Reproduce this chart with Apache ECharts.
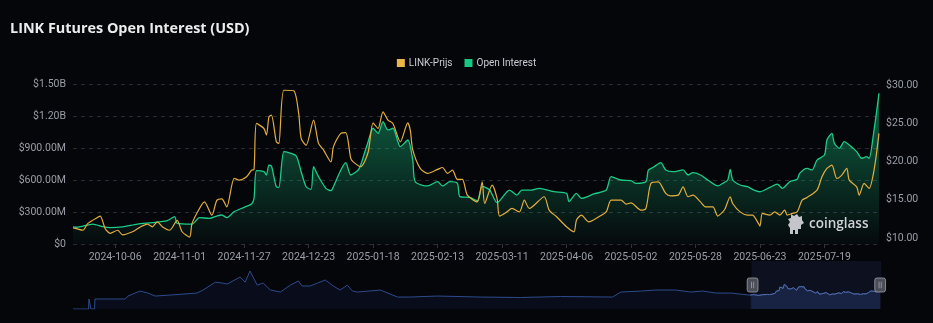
<!DOCTYPE html>
<html>
<head>
<meta charset="utf-8">
<title>LINK Futures Open Interest (USD)</title>
<script src="https://cdn.jsdelivr.net/npm/echarts@6.0.0/dist/echarts.min.js"></script>
<style>
  html, body { margin: 0; padding: 0; background: #05060a; }
  #chart { width: 933px; height: 323px; }
</style>
</head>
<body>
<div id="chart"></div>
<script>
// visible window and full history range
const fullStart = '2020-01-25';
const windowStart = '2024-09-19';
const windowEnd = '2025-08-10';

// open interest, in millions of USD
const oiDates = ['2024-09-19','2024-09-20','2024-09-22','2024-09-27','2024-10-01','2024-10-04','2024-10-09','2024-10-15','2024-10-21','2024-10-27','2024-10-30','2024-10-31','2024-11-06','2024-11-09','2024-11-13','2024-11-16','2024-11-18','2024-11-20','2024-11-23','2024-11-27','2024-11-30','2024-12-01','2024-12-02','2024-12-05','2024-12-06','2024-12-07','2024-12-08','2024-12-09','2024-12-10','2024-12-11','2024-12-13','2024-12-15','2024-12-18','2024-12-20','2024-12-22','2024-12-24','2024-12-25','2024-12-27','2024-12-30','2025-01-01','2025-01-02','2025-01-05','2025-01-07','2025-01-09','2025-01-12','2025-01-13','2025-01-16','2025-01-18','2025-01-20','2025-01-22','2025-01-24','2025-01-26','2025-01-29','2025-02-01','2025-02-03','2025-02-04','2025-02-09','2025-02-13','2025-02-15','2025-02-18','2025-02-21','2025-02-22','2025-02-26','2025-03-01','2025-03-03','2025-03-06','2025-03-09','2025-03-14','2025-03-17','2025-03-19','2025-03-23','2025-03-26','2025-04-01','2025-04-06','2025-04-07','2025-04-10','2025-04-12','2025-04-17','2025-04-22','2025-04-24','2025-04-28','2025-05-02','2025-05-04','2025-05-08','2025-05-09','2025-05-11','2025-05-14','2025-05-16','2025-05-19','2025-05-23','2025-05-25','2025-05-27','2025-05-30','2025-06-02','2025-06-06','2025-06-08','2025-06-10','2025-06-11','2025-06-12','2025-06-15','2025-06-18','2025-06-20','2025-06-23','2025-06-27','2025-06-30','2025-07-02','2025-07-05','2025-07-08','2025-07-09','2025-07-12','2025-07-14','2025-07-16','2025-07-19','2025-07-20','2025-07-22','2025-07-23','2025-07-25','2025-07-27','2025-07-29','2025-08-01','2025-08-03','2025-08-05','2025-08-06','2025-08-08','2025-08-10'];
const oiValues = [160,157,162,187,162,153,160,187,200,219,256,194,187,247,240,262,272,247,303,344,375,428,687,678,647,740,731,631,537,531,866,856,825,678,537,512,725,631,522,500,537,694,762,647,694,741,959,1085,1038,1147,1069,1085,912,975,787,584,544,584,544,584,569,444,437,406,540,506,387,506,459,506,506,522,490,475,397,475,428,469,506,631,600,594,569,584,694,719,762,694,678,694,647,669,647,600,544,569,600,700,600,553,537,512,490,531,562,522,584,606,662,709,694,787,834,975,1038,944,897,959,928,866,803,819,803,1069,1413];

// LINK price, USD
const priceDates = ['2024-09-19','2024-09-20','2024-09-23','2024-09-25','2024-09-29','2024-09-30','2024-10-02','2024-10-04','2024-10-07','2024-10-09','2024-10-13','2024-10-16','2024-10-19','2024-10-21','2024-10-23','2024-10-25','2024-10-28','2024-10-31','2024-11-02','2024-11-05','2024-11-06','2024-11-09','2024-11-11','2024-11-14','2024-11-16','2024-11-18','2024-11-20','2024-11-23','2024-11-25','2024-11-28','2024-11-30','2024-12-01','2024-12-02','2024-12-05','2024-12-06','2024-12-07','2024-12-08','2024-12-10','2024-12-11','2024-12-13','2024-12-17','2024-12-19','2024-12-20','2024-12-22','2024-12-25','2024-12-27','2024-12-29','2025-01-01','2025-01-02','2025-01-05','2025-01-07','2025-01-09','2025-01-10','2025-01-13','2025-01-16','2025-01-18','2025-01-20','2025-01-22','2025-01-24','2025-01-26','2025-01-29','2025-02-01','2025-02-02','2025-02-03','2025-02-06','2025-02-09','2025-02-13','2025-02-15','2025-02-17','2025-02-19','2025-02-21','2025-02-23','2025-02-25','2025-03-01','2025-03-03','2025-03-04','2025-03-07','2025-03-09','2025-03-10','2025-03-13','2025-03-15','2025-03-18','2025-03-20','2025-03-22','2025-03-28','2025-03-30','2025-04-02','2025-04-06','2025-04-09','2025-04-10','2025-04-12','2025-04-15','2025-04-19','2025-04-22','2025-04-24','2025-04-28','2025-04-30','2025-05-02','2025-05-06','2025-05-08','2025-05-10','2025-05-13','2025-05-16','2025-05-18','2025-05-21','2025-05-23','2025-05-25','2025-05-27','2025-05-30','2025-06-01','2025-06-04','2025-06-06','2025-06-08','2025-06-09','2025-06-11','2025-06-12','2025-06-15','2025-06-18','2025-06-20','2025-06-22','2025-06-23','2025-06-24','2025-06-27','2025-06-29','2025-07-01','2025-07-03','2025-07-04','2025-07-06','2025-07-08','2025-07-10','2025-07-12','2025-07-16','2025-07-18','2025-07-20','2025-07-22','2025-07-24','2025-07-26','2025-07-28','2025-07-29','2025-08-01','2025-08-02','2025-08-04','2025-08-06','2025-08-08','2025-08-10'];
const priceValues = [11.3,11.24,11.0,11.9,12.7,12.85,11.2,10.6,11.0,10.4,10.8,11.4,11.8,11.45,12.1,11.45,11.0,12.3,10.8,10.1,11.9,13.85,14.7,12.98,14.9,15.1,14.05,17.8,17.55,17.99,18.86,18.95,24.96,24.3,23.43,25.8,26.05,22.56,22.35,29.3,29.23,26.27,23.0,22.1,25.4,22.35,21.5,19.94,21.9,23.66,23.75,20.39,19.94,19.3,21.2,25.04,24.3,26.48,25.4,24.96,22.56,25.04,24.08,21.5,19.08,18.43,18.95,19.2,18.43,18.86,17.64,17.64,15.59,14.71,17.33,14.5,16.9,15.16,12.85,13.4,13.85,13.4,14.93,13.85,15.38,13.63,12.76,11.45,10.79,12.32,12.98,12.1,12.76,13.4,14.93,14.93,14.41,14.58,13.63,13.85,17.12,17.33,15.81,15.5,15.59,16.67,15.38,15.59,14.71,14.05,14.05,12.85,13.4,13.85,15.38,14.5,13.4,12.98,12.98,12.1,11.54,13.2,12.98,13.4,12.98,13.63,12.98,13.2,13.4,14.93,15.29,16.24,17.99,19.08,19.51,17.77,18.21,19.08,17.55,16.67,15.59,17.12,16.46,18.86,23.66];

// older LINK price history shown in the zoom slider (null = no data)
const histDates = ['2020-01-25','2020-03-04','2020-03-05','2020-03-09','2020-03-10','2020-03-19','2020-03-20','2020-06-04','2020-06-11','2020-07-11','2020-07-31','2020-08-18','2020-09-25','2020-12-01','2020-12-16','2021-01-16','2021-02-02','2021-02-15','2021-03-19','2021-04-01','2021-04-13','2021-05-01','2021-05-16','2021-06-03','2021-06-28','2021-07-23','2021-08-12','2021-08-22','2021-09-11','2021-09-29','2021-10-19','2021-11-08','2021-11-25','2021-12-13','2021-12-26','2022-01-07','2022-03-06','2022-04-18','2022-05-20','2022-07-27','2022-11-12','2023-02-20','2023-06-01','2023-10-09','2023-10-30','2023-12-19','2024-01-25','2024-03-16','2024-04-22','2024-05-22','2024-06-24','2024-08-01','2024-09-15'];
const histPrice = [null,null,4.5,4.5,null,null,4.5,4.5,9.5,18,14.6,9.5,11.2,14.6,19.7,33,31.6,30,41.8,33,52,28,31.6,19.7,16.3,28,35,26.5,26.5,31.6,36.7,26.5,19.7,28,18,16.3,19.7,7.8,7.8,9.5,7.8,7.0,8.7,7.8,16.3,18,19.7,19.7,16.3,18,14.6,14.6,11.2];

const xTickDates = ['2024-10-06','2024-11-01','2024-11-27','2024-12-23','2025-01-18','2025-02-13','2025-03-11','2025-04-06','2025-05-02','2025-05-28','2025-06-23','2025-07-19'];
const priceTicks = [10, 15, 20, 25, 30];

const HIST_MIN = -12.5;
const HIST_MAX = 69;

const ts = d => +echarts.time.parse(d);
const pair = (dates, vals) => dates.map((d, i) => [ts(d), vals[i]]);
const oiData = pair(oiDates, oiValues);
const priceData = pair(priceDates, priceValues);
const histData = pair(histDates, histPrice.map(v => v == null ? HIST_MIN : v)).concat(priceData);
const xTicks = xTickDates.map(ts);

const chart = echarts.init(document.getElementById('chart'));
const labelFont = { color: '#9a9ea7', fontSize: 10.5, fontFamily: 'Roboto' };

function fmtOi(v) {
  if (v === 0) return '$0';
  if (v >= 1000) return '$' + (v / 1000).toFixed(2) + 'B';
  return '$' + v.toFixed(2) + 'M';
}

chart.setOption({
  backgroundColor: '#05060a',
  animation: false,
  title: {
    text: 'LINK Futures Open Interest (USD)',
    left: 5, top: 17,
    textStyle: { color: '#ececee', fontSize: 14.4, fontWeight: 'bold', fontFamily: 'Open Sans' }
  },
  legend: {
    data: ['LINK-Prijs', 'Open Interest'],
    top: 53, left: 'center',
    icon: 'rect', itemWidth: 8, itemHeight: 8, itemGap: 12, padding: [5, 5],
    textStyle: { color: '#c9ccd3', fontSize: 10, fontFamily: 'Roboto', padding: [0, 0, 0, -1] }
  },
  grid: [
    { left: 73, right: 54, top: 84, height: 160 },
    { left: 73, right: 53, top: 261, height: 48 }
  ],
  xAxis: [
    {
      type: 'value', gridIndex: 0, scale: true,
      min: ts(fullStart), max: ts(windowEnd),
      axisLine: { show: false },
      axisTick: { show: true, length: 4, customValues: xTicks, lineStyle: { color: '#30333b' } },
      axisLabel: Object.assign({
        customValues: xTicks, margin: 8, hideOverlap: false,
        formatter: v => echarts.time.format(v, '{yyyy}-{MM}-{dd}', false)
      }, labelFont),
      splitLine: { show: false }
    },
    {
      type: 'value', gridIndex: 1, show: false, scale: true,
      min: ts(fullStart), max: ts(windowEnd)
    }
  ],
  yAxis: [
    {
      type: 'value', gridIndex: 0, min: 0, max: 1500, interval: 300,
      axisLine: { show: false }, axisTick: { show: false },
      axisLabel: Object.assign({ formatter: fmtOi, margin: 7 }, labelFont),
      splitLine: { lineStyle: { color: '#2a2d35', type: [4, 4] } }
    },
    {
      type: 'value', gridIndex: 0, position: 'right', min: 9.2, max: 30.12,
      axisLine: { show: false }, axisTick: { show: false },
      axisLabel: Object.assign({ customValues: priceTicks, formatter: v => '$' + v.toFixed(2), margin: 7 }, labelFont),
      splitLine: { show: false }
    },
    {
      type: 'value', gridIndex: 1, show: false, min: HIST_MIN, max: HIST_MAX
    }
  ],
  dataZoom: [{
    type: 'slider', xAxisIndex: 0, filterMode: 'none',
    startValue: ts(windowStart), endValue: ts(windowEnd),
    left: 73, right: 53, top: 261, height: 48,
    backgroundColor: 'transparent', borderColor: 'transparent',
    fillerColor: 'rgba(45,65,125,0.18)',
    showDataShadow: false, showDetail: false, brushSelect: false,
    moveHandleSize: 0, zoomLock: true,
    handleIcon: 'path://M2,0H8A2,2,0,0,1,10,2V11A2,2,0,0,1,8,13H2A2,2,0,0,1,0,11V2A2,2,0,0,1,2,0Z M4,3.5V9.5 M6,3.5V9.5',
    handleSize: 14,
    handleStyle: { color: '#4b4e57', borderColor: '#9fa2aa', borderWidth: 0.8 },
    emphasis: { handleStyle: { color: '#4b4e57', borderColor: '#9fa2aa' } }
  }],
  series: [
    {
      name: 'Open Interest', type: 'line', xAxisIndex: 0, yAxisIndex: 0,
      data: oiData, smooth: 0.25, symbol: 'none', z: 2,
      itemStyle: { color: '#18c784' },
      lineStyle: { color: '#1ccb88', width: 1.3 },
      areaStyle: {
        color: new echarts.graphic.LinearGradient(0, 0, 0, 1, [
          { offset: 0, color: 'rgba(24,190,125,0.72)' },
          { offset: 1, color: 'rgba(24,190,125,0.03)' }
        ])
      }
    },
    {
      name: 'LINK-Prijs', type: 'line', xAxisIndex: 0, yAxisIndex: 1,
      data: priceData, smooth: 0.25, symbol: 'none', z: 3,
      itemStyle: { color: '#eab746' },
      lineStyle: { color: '#e3ae3f', width: 1.2 }
    },
    {
      name: 'history', type: 'line', xAxisIndex: 1, yAxisIndex: 2,
      data: histData, symbol: 'none', silent: true,
      lineStyle: { color: '#2d4b8c', width: 1 },
      areaStyle: { color: '#0b1122', origin: 'start' }
    },
    {
      name: 'historyWindow', type: 'line', xAxisIndex: 1, yAxisIndex: 2,
      data: priceData, symbol: 'none', silent: true,
      lineStyle: { color: '#5a74b4', width: 1 },
      areaStyle: { color: '#1a2440', origin: 'start' }
    }
  ],
  graphic: [
    {
      type: 'polygon', z: 100, silent: true, x: 788, y: 214,
      shape: {
        points: [[3,0],[6,2],[9,0],[11,3],[14,2],[14,6],[16,9],[13,11],[13,15],[10,15],[10,20],[7,20],[7,16],[5,16],[5,20],[2,20],[2,14],[0,11],[2,8],[0,5],[3,4]]
      },
      style: { fill: '#c3c5ca' }
    },
    {
      type: 'text', z: 100, silent: true, x: 809, y: 224,
      style: { text: 'coinglass', fill: '#d0d2d6', font: '600 13.5px "Open Sans"', verticalAlign: 'middle' }
    }
  ]
});
</script>
</body>
</html>
